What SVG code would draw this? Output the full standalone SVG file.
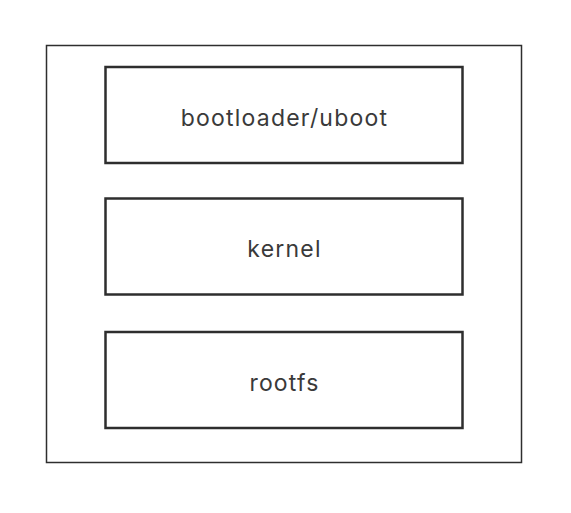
<svg xmlns="http://www.w3.org/2000/svg" width="571" height="513" viewBox="0 0 571 513">
<style>
.outer{fill:none;stroke:#2e2e2e;stroke-width:1.5}
.box rect{fill:none;stroke:#2e2e2e;stroke-width:2.5}
.box text{font-family:Inter,"Liberation Sans",Arial,sans-serif;font-size:23px;font-weight:400;letter-spacing:1.2px;fill:#3a3a3a;text-anchor:middle}
</style>
<rect width="571" height="513" fill="#fff"/>
<g id="container"><rect class="outer" x="46.5" y="45.5" width="475" height="417"/></g>
<g id="bootloader" class="box"><rect x="105.5" y="67" width="357" height="96"/><text x="284.5" y="126">bootloader/uboot</text></g>
<g id="kernel" class="box"><rect x="105.5" y="198.5" width="357" height="96"/><text x="284.5" y="257">kernel</text></g>
<g id="rootfs" class="box"><rect x="105.5" y="332" width="357" height="96"/><text x="284.5" y="391">rootfs</text></g>
<g id="connectors"/>
</svg>
